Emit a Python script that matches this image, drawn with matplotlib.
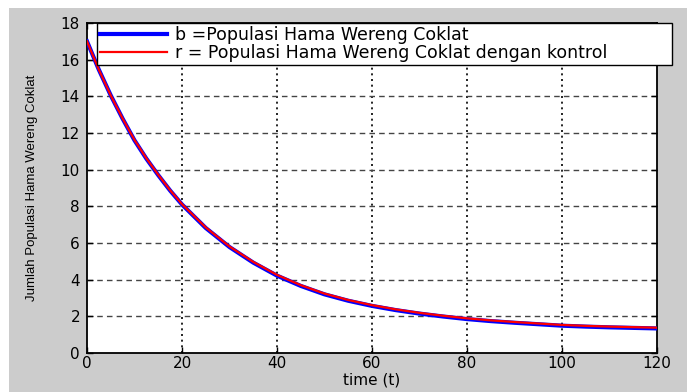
import numpy as np
import matplotlib
matplotlib.use('Agg')
from matplotlib import pyplot as plt

t = [0, 2.5, 5, 7.5, 10, 12.5, 15, 17.5, 20, 25, 30, 35, 40, 45, 50, 55, 60,
     65, 70, 75, 80, 85, 90, 95, 100, 105, 110, 115, 120]
b_pop = [17.0, 15.45, 14.05, 12.78, 11.6, 10.6, 9.7, 8.86, 8.1, 6.82, 5.78, 4.93, 4.22,
         3.66, 3.2, 2.85, 2.57, 2.34, 2.15, 1.99, 1.85, 1.74, 1.65, 1.57, 1.49,
         1.44, 1.40, 1.37, 1.34]
r_pop = [17.0, 15.45, 14.05, 12.79, 11.62, 10.62, 9.72, 8.88, 8.12, 6.85, 5.81, 4.97, 4.26,
         3.70, 3.24, 2.89, 2.61, 2.38, 2.19, 2.03, 1.89, 1.78, 1.69, 1.61, 1.53,
         1.48, 1.44, 1.41, 1.38]
label_b = 'b =Populasi Hama Wereng Coklat'
label_r = 'r = Populasi Hama Wereng Coklat dengan kontrol'

plt.rcParams['font.family'] = ['DejaVu Sans']

fig = plt.figure(figsize=(6.87, 3.92), dpi=100)
fig.patch.set_facecolor('white')
# grey MATLAB figure background, white strip on top/left
fig.patches.append(plt.Rectangle((9/687, 0), 1, 1 - 8/392, transform=fig.transFigure,
                                 facecolor='#cccccc', edgecolor='none', zorder=-10))

ax = fig.add_axes([87/687, 1 - 353/392, (657 - 87)/687, (353 - 23)/392])
ax.set_facecolor('white')

ax.plot(t, b_pop, color='#0000ff', lw=3.0, label=label_b, zorder=3)
ax.plot(t, r_pop, color='#ff0000', lw=1.6, label=label_r, zorder=4)

ax.set_xlim(0, 120)
ax.set_ylim(0, 18)
ax.set_xticks(np.arange(0, 121, 20))
ax.set_yticks(np.arange(0, 19, 2))

for x in range(20, 120, 20):
    ax.axvline(x, color='black', ls=(0, (1.2, 2.2)), lw=1.2, zorder=1)
for y in range(2, 18, 2):
    ax.axhline(y, color='#444444', ls=(0, (4, 3)), lw=1.0, zorder=1)

ax.tick_params(direction='in', length=4, width=1, labelsize=11,
               top=True, right=True)
ax.tick_params(axis='x', pad=2)
ax.tick_params(axis='y', pad=5)
for s in ax.spines.values():
    s.set_linewidth(1.3)
    s.set_color('black')

ax.set_xlabel('time (t)', fontsize=11, labelpad=1)
ax.set_ylabel('Jumlah Populasi Hama Wereng Coklat',
              family=['Liberation Sans Narrow', 'Liberation Sans', 'DejaVu Sans'],
              fontsize=9.5, labelpad=16)

leg = fig.legend(loc='upper left',
                 bbox_to_anchor=(97/687, 1 - 23/392, (672 - 97)/687, 0.0),
                 mode='expand', fontsize=12.5, frameon=True, fancybox=False,
                 borderpad=0.15, labelspacing=0.05, handlelength=3.9,
                 handletextpad=0.45, borderaxespad=0)
leg.get_frame().set_edgecolor('black')
leg.get_frame().set_linewidth(1.0)
leg.get_frame().set_alpha(1)

fig.savefig('out.png', dpi=100, facecolor=fig.get_facecolor())
